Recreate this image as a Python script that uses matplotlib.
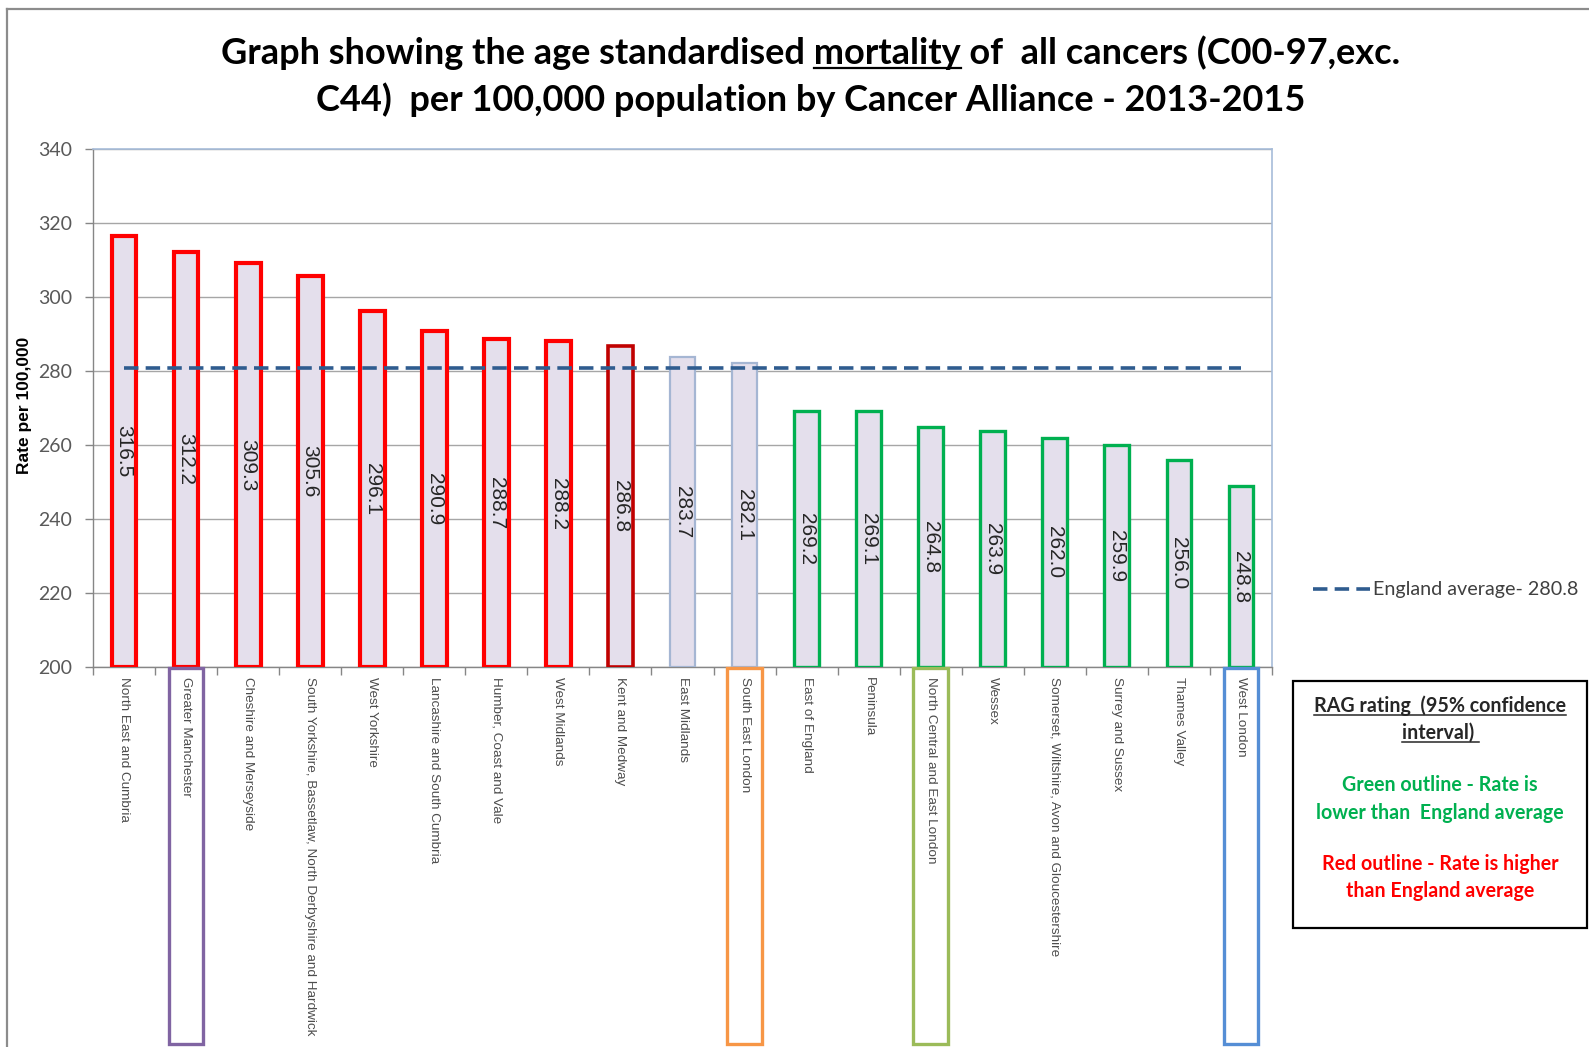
import matplotlib
matplotlib.use("Agg")
import matplotlib.pyplot as plt
from matplotlib.patches import Rectangle
from matplotlib.lines import Line2D
import matplotlib.transforms as mtransforms

# ---------------- data ----------------
categories = [
    "North East and Cumbria", "Greater Manchester", "Cheshire and Merseyside",
    "South Yorkshire, Bassetlaw, North Derbyshire and Hardwick", "West Yorkshire",
    "Lancashire and South Cumbria", "Humber, Coast and Vale", "West Midlands",
    "Kent and Medway", "East Midlands", "South East London", "East of England",
    "Peninsula", "North Central and East London", "Wessex",
    "Somerset, Wiltshire, Avon and Gloucestershire", "Surrey and Sussex",
    "Thames Valley", "West London",
]
rates = [316.5, 312.2, 309.3, 305.6, 296.1, 290.9, 288.7, 288.2, 286.8, 283.7,
         282.1, 269.2, 269.1, 264.8, 263.9, 262.0, 259.9, 256.0, 248.8]
rag = ["high"] * 8 + ["high_dark", "similar", "similar"] + ["low"] * 8
england_avg = 280.8
highlighted = {"Greater Manchester": "#8064A2", "South East London": "#F79646",
               "North Central and East London": "#9BBB59", "West London": "#558ED5"}
y_ticks = [200, 220, 240, 260, 280, 300, 320, 340]

title_line1_pre = "Graph showing the age standardised "
title_under = "mortality"
title_line1_post = " of  all cancers (C00-97,exc."
title_line2 = "C44)  per 100,000 population by Cancer Alliance - 2013-2015"

# ---------------- style ----------------
edge_map = {"high": ("#FF0000", 3.0), "high_dark": ("#C00000", 2.6),
            "similar": ("#A5B6D3", 1.6), "low": ("#00B050", 2.4)}
fill = "#E4DFEC"
W, H = 1589, 1047
fig = plt.figure(figsize=(W / 100, H / 100), dpi=100)
fig.patch.set_facecolor("white")

ax = fig.add_axes([93 / W, 1 - 667 / H, (1272 - 93) / W, (667 - 149) / H])
x = list(range(len(categories)))
ecols = [edge_map[r][0] for r in rag]
elws = [edge_map[r][1] for r in rag]
bars = ax.bar(x, [v - 200 for v in rates], bottom=200, width=0.40, color=fill,
              edgecolor=ecols, linewidth=elws, zorder=3)
for xi, v in zip(x, rates):
    ax.text(xi, (200 + v) / 2, f"{v:.1f}", rotation=270, ha="center", va="center",
            fontsize=15, family="Liberation Sans", color="#262626", zorder=4)

avg_line, = ax.plot([x[0], x[-1]], [england_avg, england_avg], ls="--", color="#2F5C8F",
                    lw=2.6, dashes=(4.0, 2.0), zorder=5,
                    label=f"England average- {england_avg}")

ax.set_xlim(-0.5, len(categories) - 0.5)
ax.set_ylim(200, 340)
ax.set_yticks(y_ticks)
ax.set_yticklabels([str(t) for t in y_ticks], fontsize=14, family="Lato", color="#595959")
ax.tick_params(axis="y", length=6, width=1, color="#868686", pad=9)
ax.yaxis.grid(True, color="#A6A6A6", lw=1.0, zorder=0)
ax.set_axisbelow(True)

ax.set_xticks(x)
ax.set_xticklabels(categories, rotation=270, ha="center", va="top", fontsize=9.7,
                   family="Liberation Sans", color="#4D4D4D")
ax.tick_params(axis="x", which="major", length=0, pad=7)
ax.set_xticks([i - 0.5 for i in range(len(categories) + 1)], minor=True)
ax.tick_params(axis="x", which="minor", length=6, width=1, color="#868686")

for s in ["top", "right"]:
    ax.spines[s].set_color("#A7BCD9")
    ax.spines[s].set_linewidth(1.2)
for s in ["left", "bottom"]:
    ax.spines[s].set_color("#868686")
    ax.spines[s].set_linewidth(1.0)

# highlight boxes under some category labels
trans = mtransforms.blended_transform_factory(ax.transData, fig.transFigure)
for name, col in highlighted.items():
    i = categories.index(name)
    r = Rectangle((i - 0.28, 1 - 1044 / H), 0.56, (1044 - 668) / H, transform=trans,
                  fill=False, edgecolor=col, lw=2.4, clip_on=False, zorder=6)
    fig.add_artist(r)

fig.text(25 / W, 1 - 405 / H, "Rate per 100,000", rotation=90, ha="center", va="center",
         fontsize=12.5, fontweight="bold", family="Liberation Sans", color="black")

# legend
leg = fig.legend(handles=[avg_line], loc="center left",
                 bbox_to_anchor=(1313 / W, 1 - 590 / H), frameon=False,
                 prop={"family": "Lato", "size": 14.2},
                 handlelength=2.9, handletextpad=0.15, borderpad=0, borderaxespad=0)
for t in leg.get_texts():
    t.set_color("#404040")

# title
TFS = 26
tfont = dict(fontsize=TFS, fontweight="bold", family="Lato", color="black")
t1 = fig.text(811 / W, 1 - 64 / H, title_line1_pre + title_under + title_line1_post,
              ha="center", va="baseline", **tfont)
t2 = fig.text(811 / W, 1 - 111 / H, title_line2, ha="center", va="baseline", **tfont)

# RAG box
fig.add_artist(Rectangle((1293 / W, 1 - 928 / H), (1587 - 1293) / W, (928 - 681) / H,
                         transform=fig.transFigure, fill=False, edgecolor="black", lw=1.6))
cx = 1440 / W
bfont = dict(fontsize=14.1, fontweight="bold", family="Lato", ha="center", va="baseline")
h1 = fig.text(cx, 1 - 712 / H, "RAG rating  (95% confidence", color="#262626", **bfont)
h2 = fig.text(cx, 1 - 739 / H, "interval) ", color="#262626", **bfont)
fig.text(cx, 1 - 791 / H, "Green outline - Rate is", color="#00B050", **bfont)
fig.text(cx, 1 - 819 / H, "lower than  England average", color="#00B050", **bfont)
fig.text(cx, 1 - 870 / H, "Red outline - Rate is higher", color="#FF0000", **bfont)
fig.text(cx, 1 - 897 / H, "than England average", color="#FF0000", **bfont)

# outer chart border
fig.add_artist(Line2D([7 / W, 7 / W], [0, 1 - 9 / H], transform=fig.transFigure,
                      color="#8C8C8C", lw=1.6))
fig.add_artist(Line2D([7 / W, 1], [1 - 9 / H, 1 - 9 / H], transform=fig.transFigure,
                      color="#8C8C8C", lw=1.6))

# underlines
fig.canvas.draw()
rend = fig.canvas.get_renderer()


def twidth(s, **kw):
    t = fig.text(0, 0, s, **kw)
    w = t.get_window_extent(rend).width
    t.remove()
    return w


kw_t = dict(fontsize=TFS, fontweight="bold", family="Lato")
bb = t1.get_window_extent(rend)
w_pre_m = twidth(title_line1_pre + title_under, **kw_t)
w_m = twidth(title_under, **kw_t)
xs = bb.x0 + w_pre_m - w_m
yb = 64 + 4
fig.add_artist(Line2D([xs / W, (xs + w_m) / W], [1 - yb / H, 1 - yb / H],
                      transform=fig.transFigure, color="black", lw=1.6))
for t, base in [(h1, 712), (h2, 739)]:
    b = t.get_window_extent(rend)
    yy = base + 3
    fig.add_artist(Line2D([b.x0 / W, b.x1 / W], [1 - yy / H, 1 - yy / H],
                          transform=fig.transFigure, color="#262626", lw=1.1))

fig.savefig("out.png", dpi=100)
